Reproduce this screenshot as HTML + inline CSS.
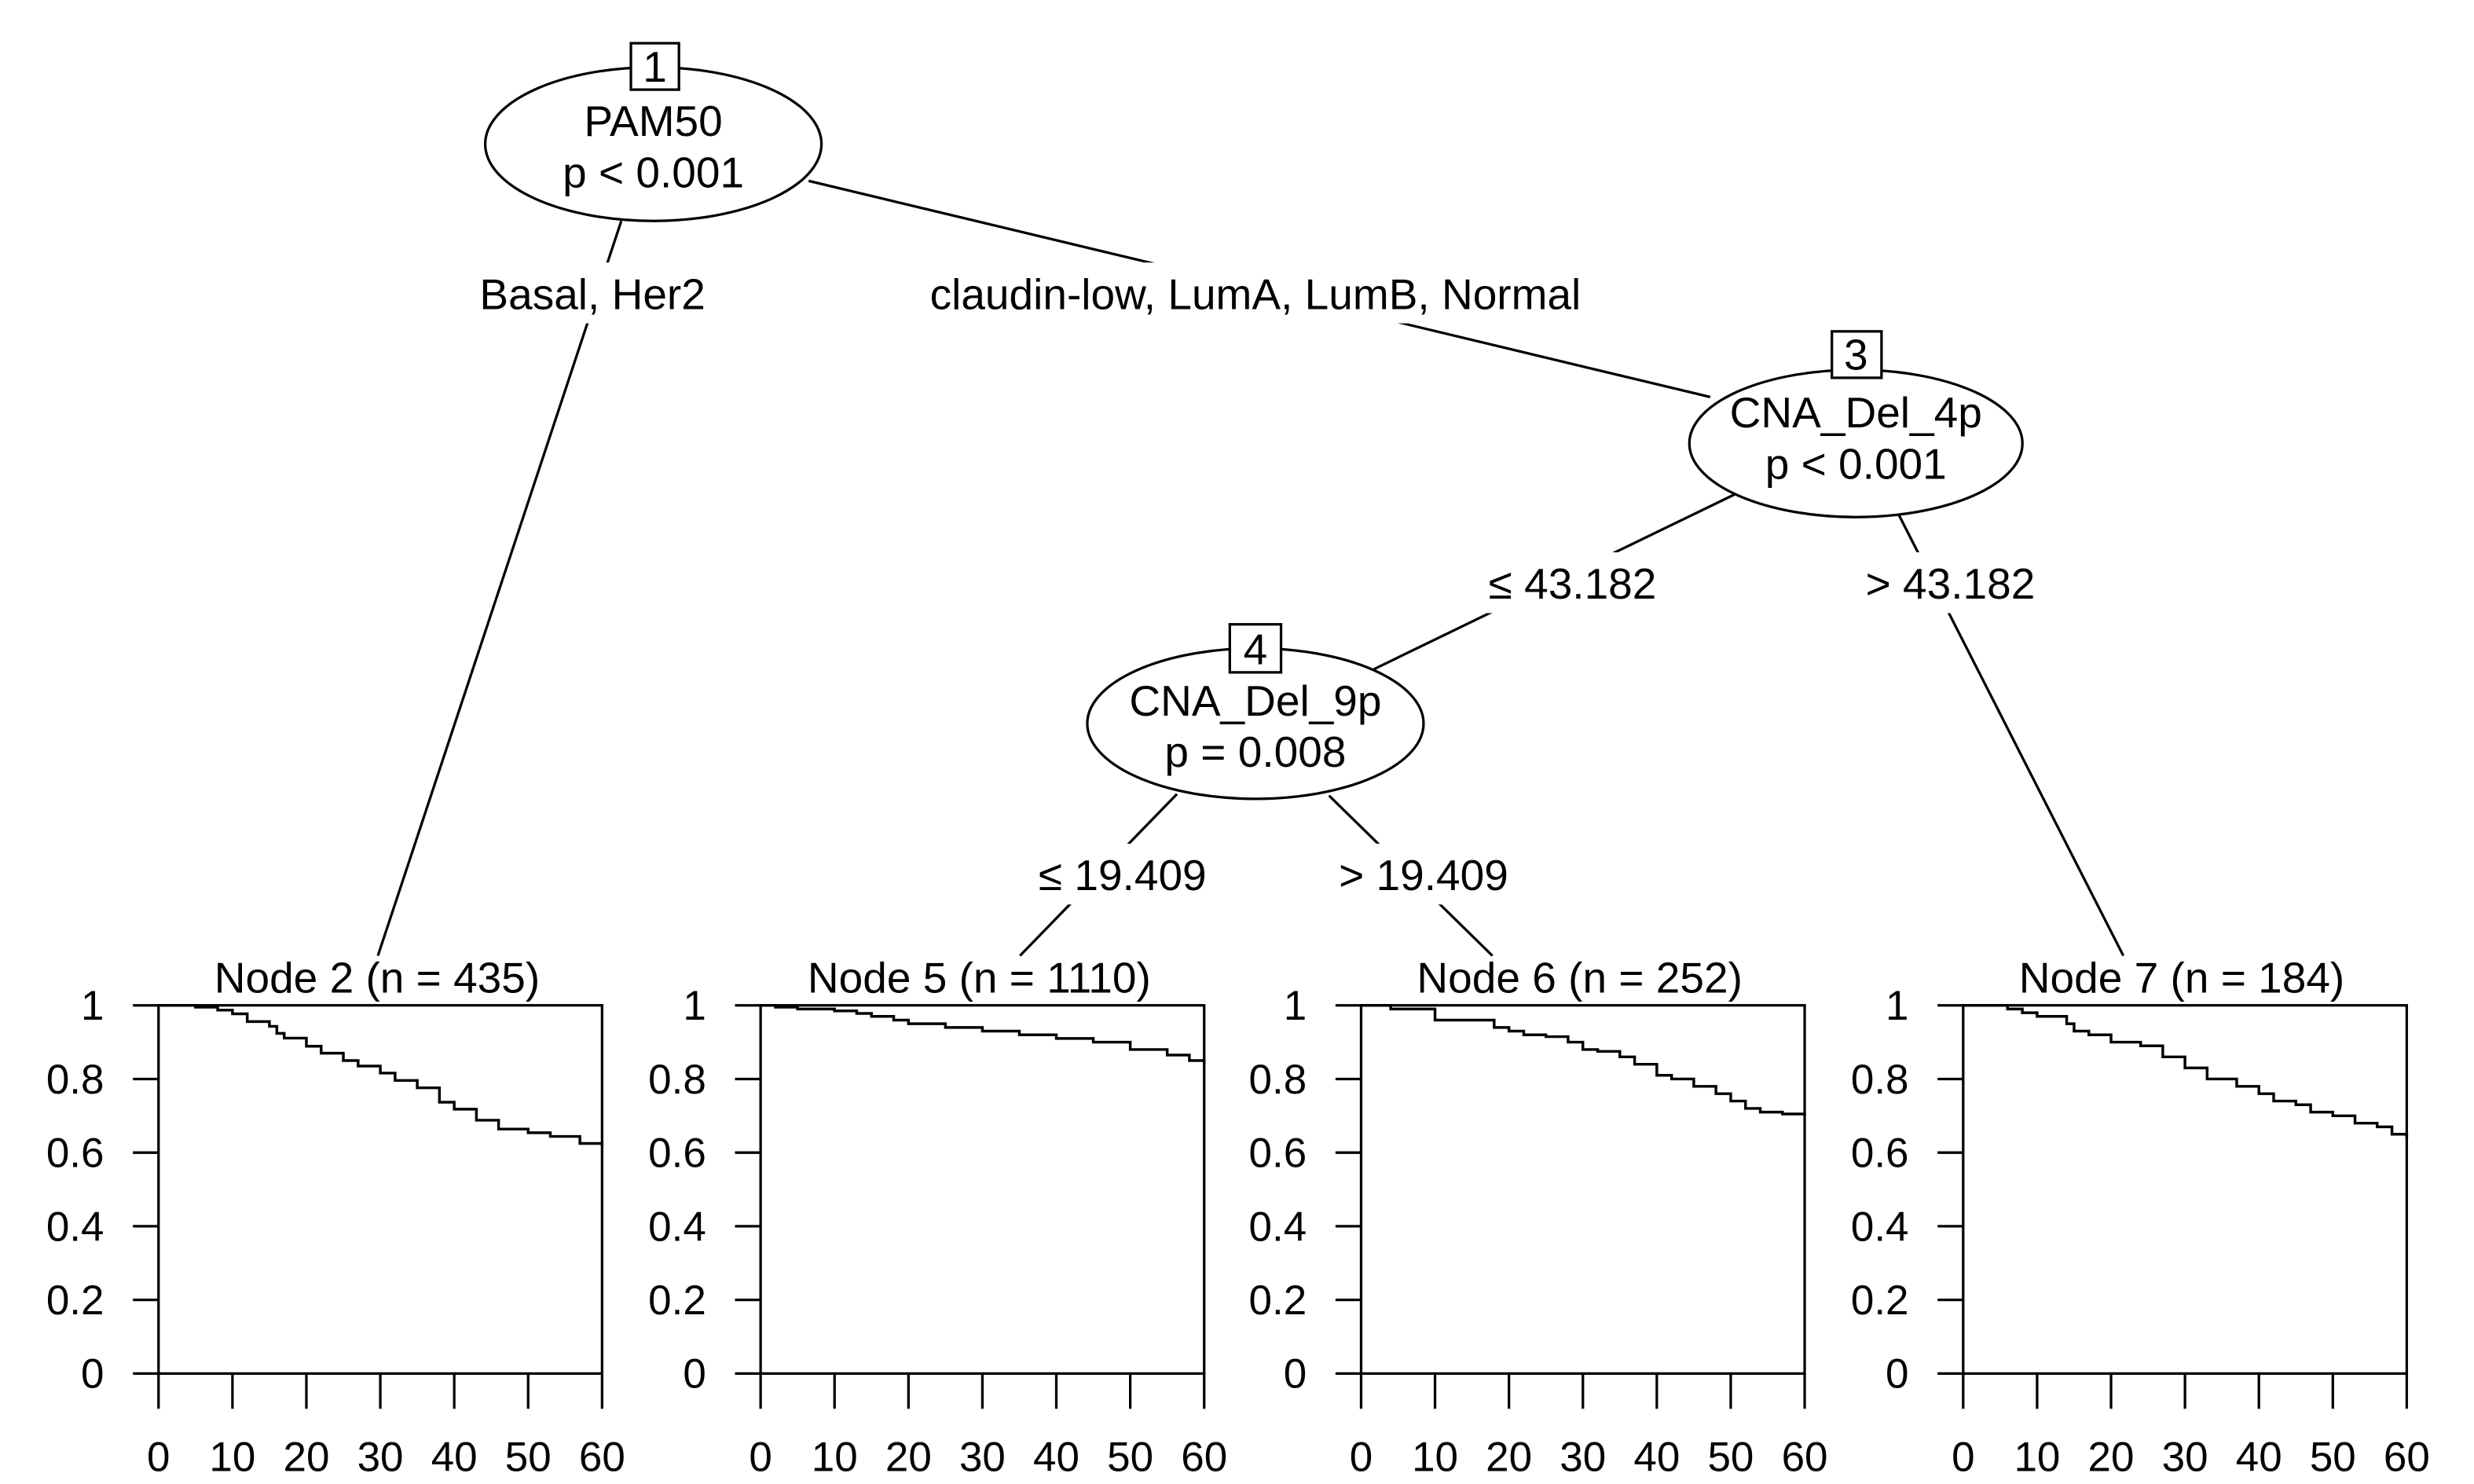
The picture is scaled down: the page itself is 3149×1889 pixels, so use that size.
<!DOCTYPE html>
<html><head><meta charset="utf-8"><style>
html,body{margin:0;padding:0;background:#fff;}
svg{display:block;}
text{font-family:"Liberation Sans",Arial,sans-serif;fill:#000;}
</style></head><body>
<svg id="chart" width="3149" height="1889" viewBox="0 0 1545 927" preserveAspectRatio="none" xmlns="http://www.w3.org/2000/svg">
<g id="edges" stroke="#000" stroke-width="1.6" fill="none">
<line x1="388" y1="138" x2="236" y2="597"/>
<line x1="505" y1="113" x2="1068" y2="248"/>
<line x1="1085" y1="308" x2="858" y2="418"/>
<line x1="1185" y1="320" x2="1326" y2="597"/>
<line x1="735" y1="496" x2="637" y2="597"/>
<line x1="830" y1="497" x2="932" y2="597"/>
</g>
<g font-size="27" text-anchor="middle">
<rect x="296" y="164" width="150" height="38" fill="#fff"/>
<text x="370" y="193">Basal, Her2</text>
<rect x="570" y="164" width="428" height="38" fill="#fff"/>
<text x="784" y="193">claudin-low, LumA, LumB, Normal</text>
<rect x="916" y="345" width="132" height="38" fill="#fff"/>
<text x="982" y="374">≤ 43.182</text>
<rect x="1152" y="345" width="132" height="38" fill="#fff"/>
<text x="1218" y="374">&gt; 43.182</text>
<rect x="636" y="527" width="130" height="38" fill="#fff"/>
<text x="701" y="556">≤ 19.409</text>
<rect x="824" y="527" width="130" height="38" fill="#fff"/>
<text x="889" y="556">&gt; 19.409</text>
</g>
<g stroke="#000" stroke-width="1.6" fill="#fff">
<ellipse cx="408" cy="90" rx="105" ry="48"/>
<rect x="394" y="27" width="30" height="29"/>
<ellipse cx="1159" cy="277" rx="104" ry="46"/>
<rect x="1144" y="207" width="31" height="29"/>
<ellipse cx="784" cy="452" rx="105" ry="47"/>
<rect x="768" y="390" width="32" height="30"/>
</g>
<g font-size="27" text-anchor="middle">
<text x="409" y="51">1</text>
<text x="408" y="85">PAM50</text>
<text x="408" y="117">p &lt; 0.001</text>
<text x="1159" y="231">3</text>
<text x="1159" y="267">CNA_Del_4p</text>
<text x="1159" y="299">p &lt; 0.001</text>
<text x="784" y="415">4</text>
<text x="784" y="447">CNA_Del_9p</text>
<text x="784" y="479">p = 0.008</text>
</g>
<g id="panels"></g>
</svg>
<script>
const panelTitles = ["Node 2 (n = 435)", "Node 5 (n = 1110)", "Node 6 (n = 252)", "Node 7 (n = 184)"];
const panelLefts = [99, 475, 850, 1226];
const xTicks = [0, 10, 20, 30, 40, 50, 60];
const yTicks = [0, 0.2, 0.4, 0.6, 0.8, 1];
const yTickLabels = ["0", "0.2", "0.4", "0.6", "0.8", "1"];
const node2Times = [0, 5, 8, 10, 12, 15, 16, 17, 20, 22, 25, 27, 30, 32, 35, 38, 40, 43, 46, 50, 53, 57, 60];
const node2Surv = [1, 0.995, 0.987, 0.977, 0.956, 0.943, 0.924, 0.911, 0.889, 0.87, 0.85, 0.835, 0.816, 0.796, 0.776, 0.737, 0.718, 0.688, 0.664, 0.654, 0.644, 0.625, 0.617];
const node5Times = [0, 2, 5, 10, 13, 15, 18, 20, 25, 30, 35, 40, 45, 50, 55, 58, 60];
const node5Surv = [1, 0.995, 0.99, 0.985, 0.978, 0.97, 0.96, 0.95, 0.94, 0.93, 0.92, 0.91, 0.9, 0.88, 0.865, 0.85, 0.84];
const node6Times = [0, 4, 10, 15, 18, 20, 22, 25, 28, 30, 32, 35, 37, 40, 42, 45, 48, 50, 52, 54, 57, 60];
const node6Surv = [1, 0.99, 0.96, 0.96, 0.94, 0.93, 0.92, 0.915, 0.9, 0.88, 0.875, 0.86, 0.84, 0.81, 0.8, 0.78, 0.76, 0.74, 0.72, 0.71, 0.705, 0.7];
const node7Times = [0, 6, 8, 10, 14, 15, 17, 20, 24, 27, 30, 33, 37, 40, 42, 45, 47, 50, 53, 56, 58, 60];
const node7Surv = [1, 0.99, 0.98, 0.97, 0.95, 0.93, 0.92, 0.9, 0.89, 0.86, 0.83, 0.8, 0.78, 0.76, 0.74, 0.73, 0.71, 0.7, 0.68, 0.67, 0.65, 0.64];
const seriesTimes = [node2Times, node5Times, node6Times, node7Times];
const seriesSurv = [node2Surv, node5Surv, node6Surv, node7Surv];

const NS = "http://www.w3.org/2000/svg";
const PW = 277, TOP = 628, BOT = 858;
const g = document.getElementById("panels");
function mk(tag, attrs, parent) {
  const e = document.createElementNS(NS, tag);
  for (const k in attrs) e.setAttribute(k, attrs[k]);
  parent.appendChild(e);
  return e;
}
panelLefts.forEach((L, i) => {
  const xs = t => L + t / 60 * PW;
  const ys = v => BOT - v * (BOT - TOP);
  const pg = mk("g", {}, g);
  
  
  const box = mk("rect", {x: L, y: TOP, width: PW, height: BOT - TOP, fill: "none", stroke: "#000", "stroke-width": 1.6}, pg);
  
  
  const title = mk("text", {x: L + PW / 2 - 2, y: 620, "font-size": 27, "text-anchor": "middle"}, pg);
  title.textContent = panelTitles[i];
  
  
  yTicks.forEach((v, j) => {
    const tk = mk("line", {x1: L - 16, x2: L, y1: ys(v), y2: ys(v), stroke: "#000", "stroke-width": 1.6}, pg);
    
    
    const tl = mk("text", {x: L - 34, y: ys(v) + 9, "font-size": 26, "text-anchor": "end"}, pg);
    tl.textContent = yTickLabels[j];
    
    
  });
  xTicks.forEach(t => {
    const tk = mk("line", {x1: xs(t), x2: xs(t), y1: BOT, y2: BOT + 22, stroke: "#000", "stroke-width": 1.6}, pg);
    
    
    const tl = mk("text", {x: xs(t), y: 919, "font-size": 26, "text-anchor": "middle"}, pg);
    tl.textContent = String(t);
    
    
  });
  const T = seriesTimes[i], S = seriesSurv[i];
  let d = "M" + xs(T[0]) + " " + ys(S[0]);
  for (let k = 1; k < T.length; k++) {
    d += " H" + xs(T[k]) + " V" + ys(S[k]);
  }
  const p = mk("path", {d: d, fill: "none", stroke: "#000", "stroke-width": 1.7}, pg);
  
  
});
</script>
</body></html>
